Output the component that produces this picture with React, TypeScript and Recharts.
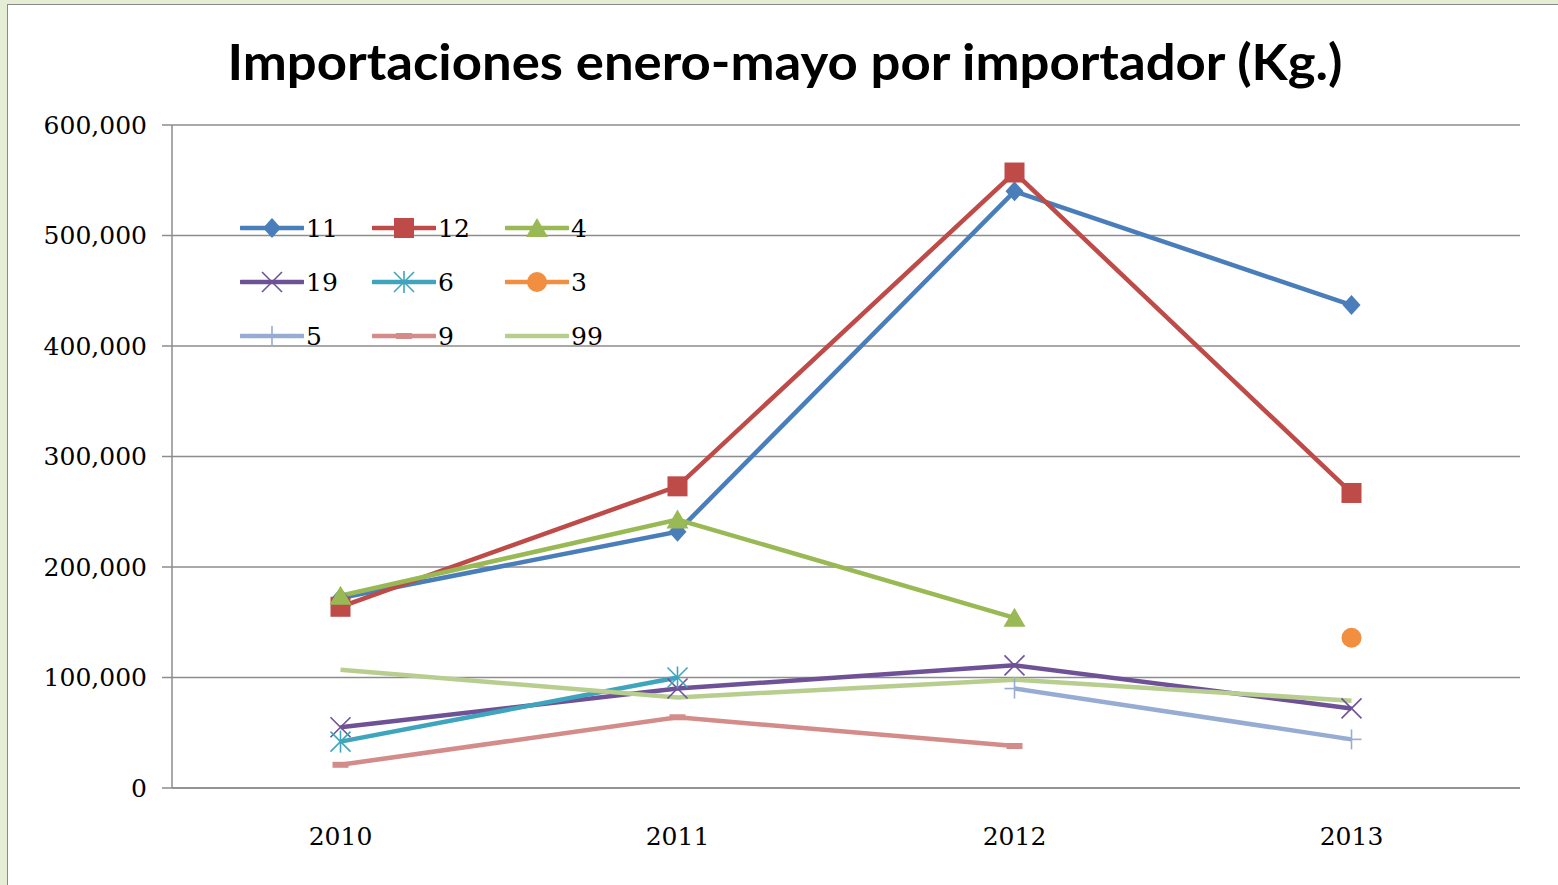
import React from "react";
import { CartesianGrid, Line, LineChart, XAxis, YAxis } from "recharts";

const years = ["2010", "2011", "2012", "2013"];
const yTicks = [0, 100000, 200000, 300000, 400000, 500000, 600000];

const imp11 = [172000, 232000, 540000, 437000];
const imp12 = [164000, 273000, 557000, 267000];
const imp4 = [174000, 243000, 154000, null];
const imp19 = [55000, 90000, 111000, 72000];
const imp6 = [42000, 100000, null, null];
const imp3 = [null, null, null, 136000];
const imp5 = [null, null, 90000, 44000];
const imp9 = [21000, 64000, 38000, null];
const imp99 = [107000, 82000, 98000, 79000];

type Marker = "diamond" | "square" | "triangle" | "x" | "star" | "circle" | "plus" | "dash" | "none";

const series: { key: string; values: (number | null)[]; color: string; marker: Marker }[] = [
  { key: "11", values: imp11, color: "#4a7ebb", marker: "diamond" },
  { key: "12", values: imp12, color: "#be4b48", marker: "square" },
  { key: "4", values: imp4, color: "#98b954", marker: "triangle" },
  { key: "19", values: imp19, color: "#6e5196", marker: "x" },
  { key: "6", values: imp6, color: "#3fa5bd", marker: "star" },
  { key: "3", values: imp3, color: "#f28e3f", marker: "circle" },
  { key: "5", values: imp5, color: "#97acd3", marker: "plus" },
  { key: "9", values: imp9, color: "#d38c8a", marker: "dash" },
  { key: "99", values: imp99, color: "#b7ce8e", marker: "none" },
];

const data = years.map((year, i) => {
  const row: Record<string, number | string | null> = { year, x: i + 0.5 };
  series.forEach((s) => {
    row[s.key] = s.values[i];
  });
  return row;
});

const FONT = "'DejaVu Serif', serif";

function markerShape(kind: Marker, cx: number, cy: number, color: string, key?: string) {
  const r = 10;
  switch (kind) {
    case "diamond":
      return (
        <polygon key={key} points={`${cx},${cy - r} ${cx + r - 1},${cy} ${cx},${cy + r} ${cx - r + 1},${cy}`} fill={color} />
      );
    case "square":
      return <rect key={key} x={cx - r} y={cy - r} width={2 * r} height={2 * r} fill={color} />;
    case "triangle":
      return (
        <polygon key={key} points={`${cx},${cy - r} ${cx + r + 1},${cy + r - 1} ${cx - r - 1},${cy + r - 1}`} fill={color} />
      );
    case "circle":
      return <circle key={key} cx={cx} cy={cy} r={r} fill={color} />;
    case "x":
      return (
        <g key={key} stroke={color} strokeWidth={1.6}>
          <line x1={cx - r} y1={cy - r} x2={cx + r} y2={cy + r} />
          <line x1={cx - r} y1={cy + r} x2={cx + r} y2={cy - r} />
        </g>
      );
    case "star":
      return (
        <g key={key} stroke={color} strokeWidth={1.6}>
          <line x1={cx - r} y1={cy - r} x2={cx + r} y2={cy + r} />
          <line x1={cx - r} y1={cy + r} x2={cx + r} y2={cy - r} />
          <line x1={cx} y1={cy - r - 1} x2={cx} y2={cy + r + 1} />
        </g>
      );
    case "plus":
      return (
        <g key={key} stroke={color} strokeWidth={1.6}>
          <line x1={cx - r} y1={cy} x2={cx + r} y2={cy} />
          <line x1={cx} y1={cy - r} x2={cx} y2={cy + r} />
        </g>
      );
    case "dash":
      return <line key={key} x1={cx - 8} y1={cy} x2={cx + 8} y2={cy} stroke={color} strokeWidth={6} />;
    default:
      return <g key={key} />;
  }
}

function makeDot(kind: Marker, color: string) {
  return (props: any) => {
    const { cx, cy, index, value } = props;
    const k = `dot-${index}`;
    if (cx == null || cy == null || value == null) return <g key={k} />;
    return markerShape(kind, cx, cy, color, k);
  };
}

function ChartLegend() {
  return (
    <div
      style={{
        position: "absolute",
        left: 240,
        top: 201,
        display: "grid",
        gridTemplateColumns: "132px 133px 133px",
        rowGap: 0,
        fontFamily: FONT,
        fontSize: 25,
        color: "#000",
      }}
    >
      {series.map((s) => (
        <div key={s.key} style={{ display: "flex", alignItems: "center", height: 54 }}>
          <svg width={64} height={30} style={{ display: "block" }}>
            <line x1={1} y1={15} x2={63} y2={15} stroke={s.color} strokeWidth={4.5} strokeLinecap="round" />
            {markerShape(s.marker, 32, 15, s.color)}
          </svg>
          <span style={{ marginLeft: 2 }}>{s.key}</span>
        </div>
      ))}
    </div>
  );
}

export default function App() {
  return (
    <div
      style={{
        position: "fixed",
        left: 0,
        top: 0,
        width: 1558,
        height: 885,
        background: "#e6edd5",
        overflow: "hidden",
      }}
    >
      <div
        style={{
          position: "absolute",
          left: 7,
          top: 4,
          width: 1560,
          height: 890,
          background: "#ffffff",
          border: "1.5px solid #8a8a8a",
          boxSizing: "border-box",
        }}
      />
      <svg width={1558} height={110} style={{ position: "absolute", left: 0, top: 0 }}>
        <text
          x={785}
          y={80}
          textAnchor="middle"
          textLength={1115}
          lengthAdjust="spacingAndGlyphs"
          style={{ fontFamily: "Lato, 'Open Sans', sans-serif", fontWeight: 700, fontSize: 49, fill: "#000" }}
        >
          Importaciones enero-mayo por importador (Kg.)
        </text>
      </svg>
      <div style={{ position: "absolute", left: 0, top: 0 }}>
        <LineChart width={1558} height={885} data={data} margin={{ top: 125, right: 38, left: 52, bottom: 47 }}>
          <CartesianGrid xAxisId={0} horizontal vertical={false} stroke="#8c8c8c" strokeWidth={1.5} />
          <XAxis
            xAxisId={0}
            dataKey="x"
            type="number"
            domain={[0, 4]}
            ticks={[0, 1, 2, 3, 4]}
            tick={false}
            tickSize={10}
            height={10}
            stroke="#8c8c8c"
            strokeWidth={1.5}
          />
          <XAxis
            xAxisId={1}
            dataKey="x"
            type="number"
            domain={[0, 4]}
            ticks={data.map((d) => d.x as number)}
            tickFormatter={(v: number) => years[Math.floor(v)]}
            axisLine={false}
            tickLine={false}
            tickSize={0}
            tickMargin={29}
            height={40}
            tick={{ fill: "#000", fontSize: 25, fontFamily: FONT }}
          />
          <YAxis
            type="number"
            domain={[0, 600000]}
            ticks={yTicks}
            width={120}
            tickSize={10}
            tickMargin={15}
            stroke="#8c8c8c"
            strokeWidth={1.5}
            tickFormatter={(v: number) => v.toLocaleString("en-US")}
            tick={{ fill: "#000", fontSize: 25, fontFamily: FONT }}
          />
          {series.map((s) => (
            <Line
              key={s.key}
              xAxisId={0}
              dataKey={s.key}
              stroke={s.color}
              strokeWidth={4.5}
              dot={makeDot(s.marker, s.color)}
              activeDot={false}
              isAnimationActive={false}
            />
          ))}
        </LineChart>
      </div>
      <ChartLegend />
    </div>
  );
}
